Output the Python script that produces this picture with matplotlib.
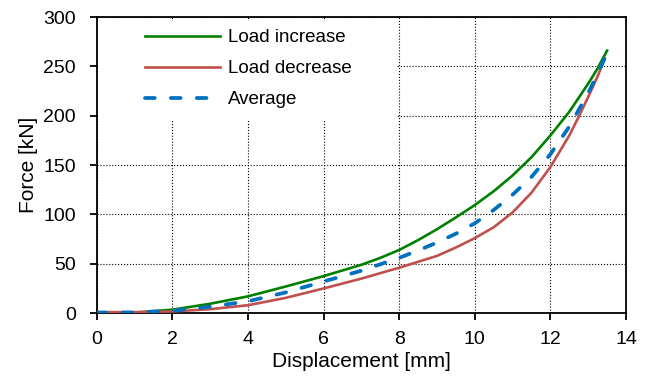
import matplotlib
matplotlib.use("Agg")
import matplotlib.pyplot as plt
from matplotlib.patches import Rectangle

plt.rcParams['font.family'] = ['Liberation Sans', 'DejaVu Sans']

# 读图估计的数据
x_inc = [0, 1, 2, 3, 4, 5, 6, 7, 7.5, 8, 8.5, 9, 9.5, 10, 10.5, 11, 11.5, 12, 12.5, 13, 13.25, 13.5]
f_inc = [0, 0.5, 3.5, 9.5, 17, 27, 37.5, 49, 56, 64, 74, 85, 97, 109.5, 123.5, 139.5, 158, 180, 204, 232.5, 248, 266]

x_dec = [0, 1, 2, 3, 4, 5, 6, 7, 8, 8.5, 9, 9.5, 10, 10.5, 11, 11.5, 12, 12.5, 12.75, 13, 13.25, 13.44]
f_dec = [1, 1, 1.7, 4, 8, 15.5, 25, 35, 46, 52, 58, 66.5, 76, 87, 102, 122, 148, 180, 199, 219, 240, 258]

x_avg = [0, 1, 2, 3, 4, 5, 6, 7, 8, 8.5, 9, 9.5, 10, 10.5, 11, 11.5, 12, 12.5, 13, 13.25, 13.55]
f_avg = [0.5, 0.7, 2.4, 6.5, 12, 21, 32, 43, 56, 63.5, 71.5, 80.5, 91, 104.5, 120, 138, 161, 189, 223, 242.5, 268]

x_ticks = [0, 2, 4, 6, 8, 10, 12, 14]
y_ticks = [0, 50, 100, 150, 200, 250, 300]

fig = plt.figure(figsize=(6.5, 3.8), dpi=100)
ax = fig.add_axes([0.149, 0.176, 0.814, 0.779])

ax.plot(x_inc, f_inc, color='#008000', lw=1.9, label='Load increase', zorder=3)
ax.plot(x_dec, f_dec, color='#C0504D', lw=1.9, label='Load decrease', zorder=3)
ax.plot(x_avg, f_avg, color='#0070C0', lw=2.7, linestyle=(0, (2.6, 4.3)),
        dash_capstyle='round', label='Average', zorder=4)

ax.set_xlim(0, 14)
ax.set_ylim(0, 300)
ax.set_xticks(x_ticks)
ax.set_yticks(y_ticks)
ax.grid(True, color='black', linestyle=':', linewidth=0.8)

# 图例背后的白色底块
ax.add_patch(Rectangle((0.003, 0.652), 0.562, 0.335, transform=ax.transAxes,
                       facecolor='white', edgecolor='none', zorder=1.8))

ax.legend(loc='upper left', bbox_to_anchor=(0.091, 0.96), frameon=False,
          fontsize=13.5, borderpad=0, borderaxespad=0, handlelength=4.0,
          handletextpad=0.43, labelspacing=0.75)

for s in ax.spines.values():
    s.set_linewidth(1.3)
    s.set_color('black')
ax.tick_params(direction='out', length=5, width=1.3, labelsize=14)
ax.tick_params(axis='x', pad=8)
ax.tick_params(axis='y', pad=10)

ax.set_xlabel('Displacement [mm]', fontsize=15, labelpad=3)
ax.set_ylabel('Force [kN]', fontsize=15, labelpad=4)

fig.savefig('out.png', dpi=100)
